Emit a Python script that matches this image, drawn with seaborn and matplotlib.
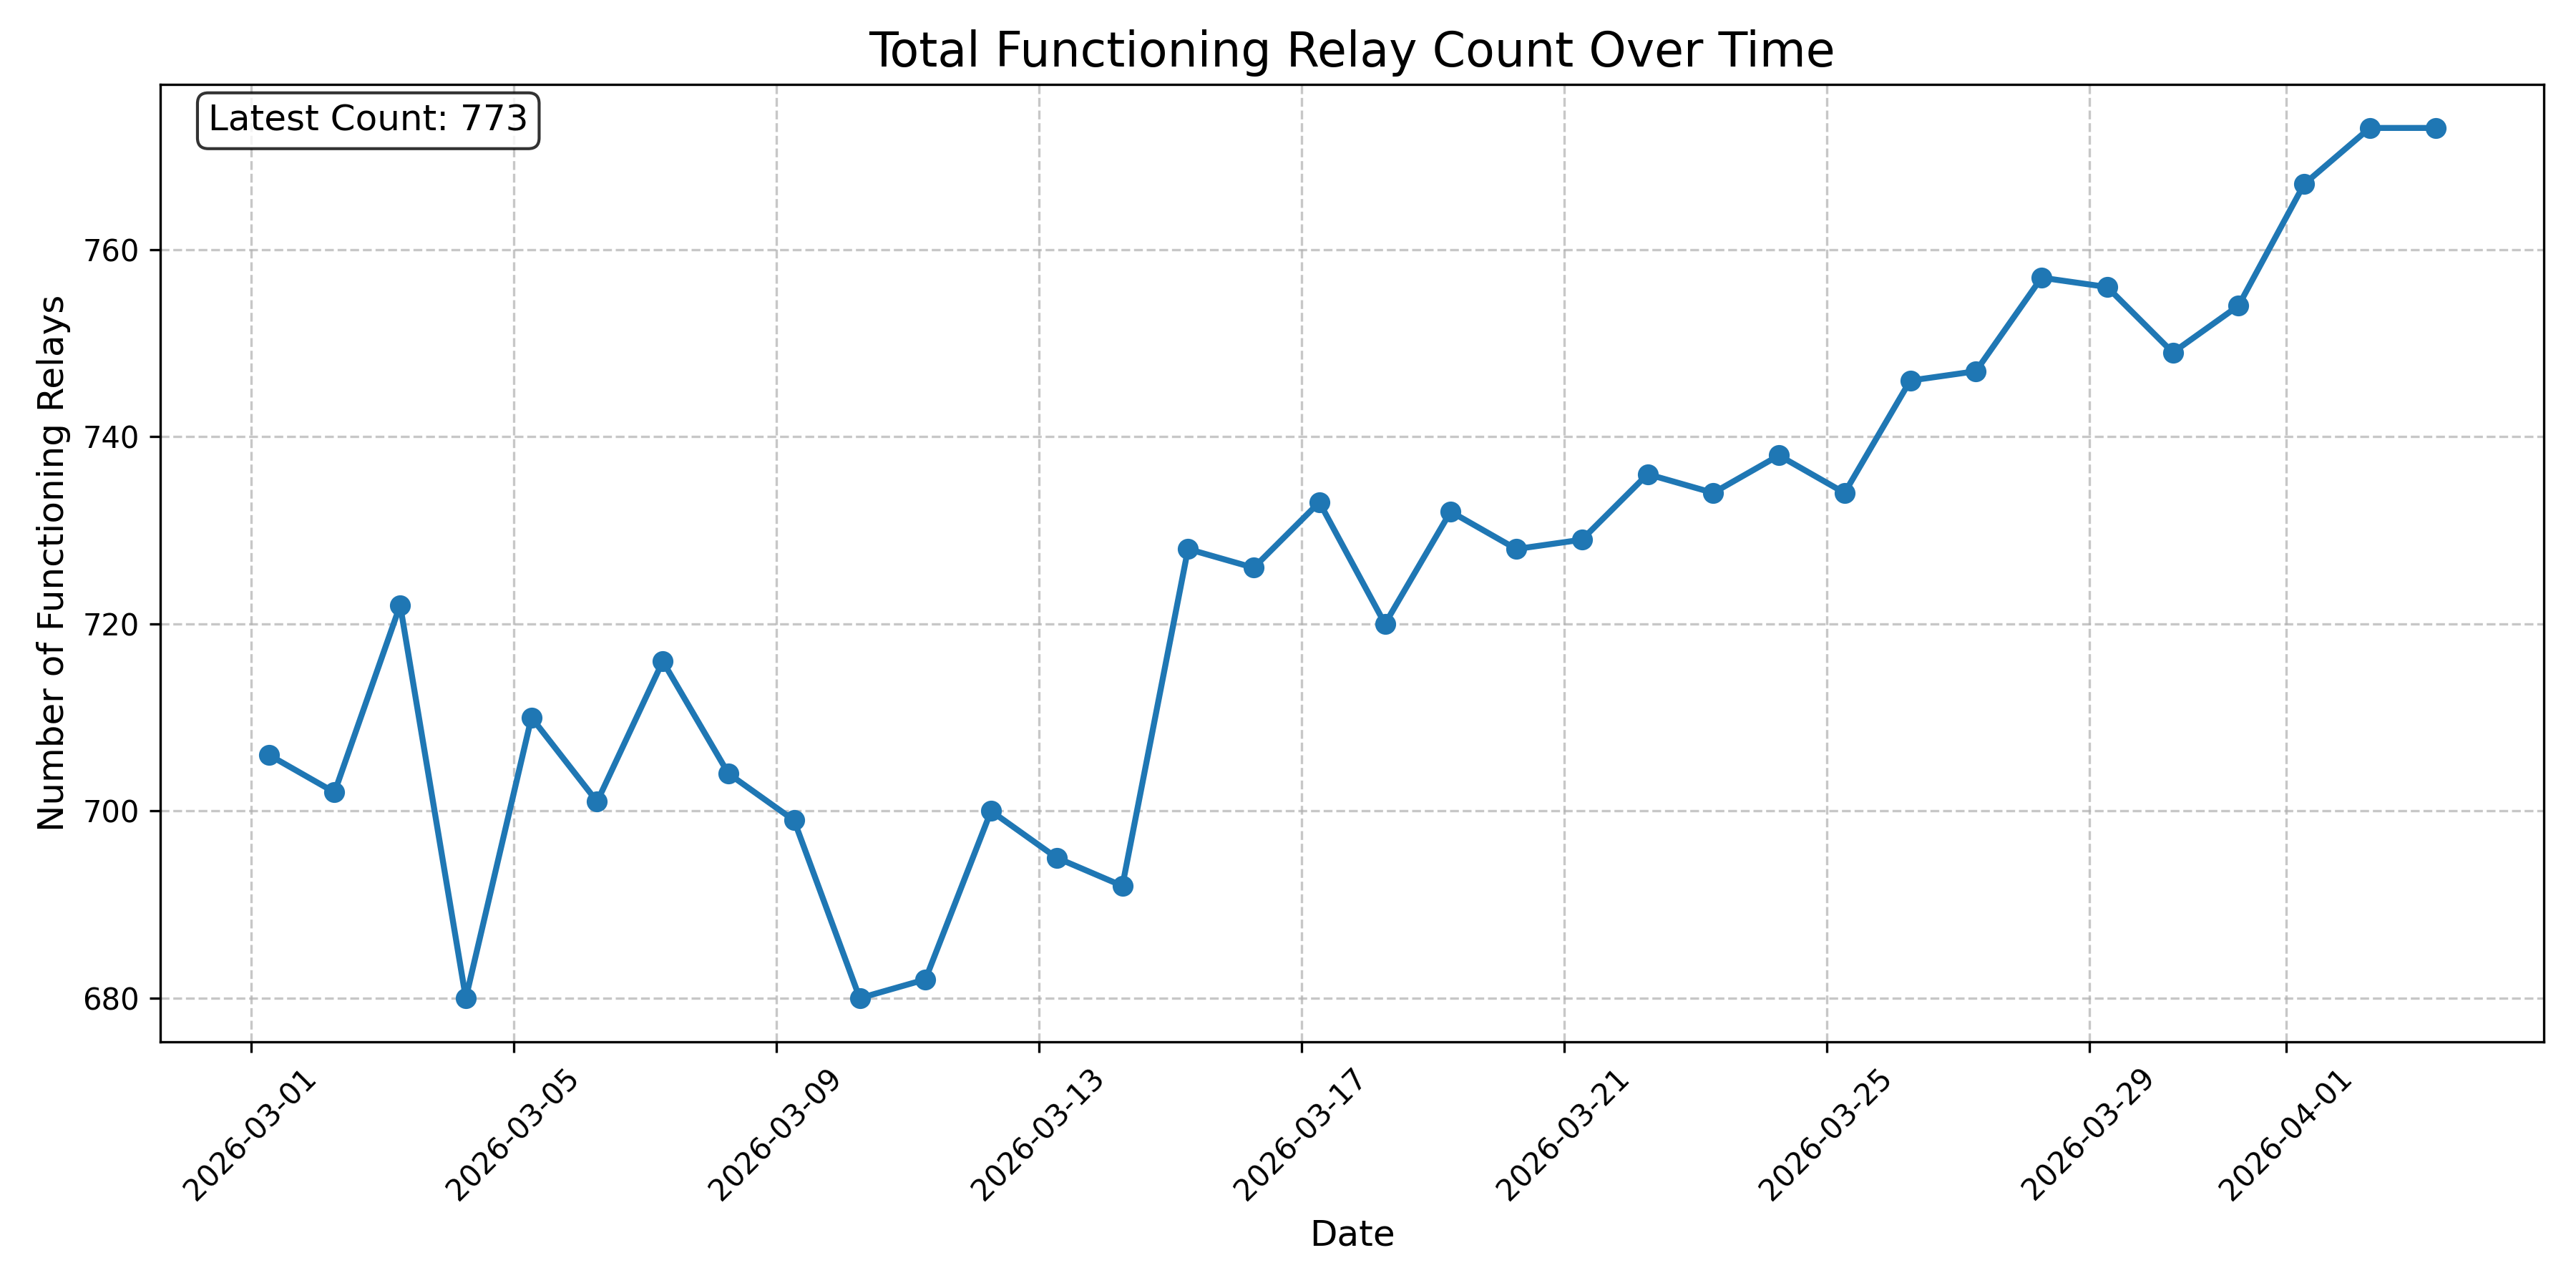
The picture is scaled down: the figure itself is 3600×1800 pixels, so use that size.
"""Total functioning relay count over time."""

import matplotlib

matplotlib.use("Agg")
import matplotlib.dates as mdates
import matplotlib.pyplot as plt
import pandas as pd
import seaborn as sns


START_TIME = "2026-03-01 06:30"
RELAY_COUNTS = [
    706, 702, 722, 680, 710, 701, 716, 704, 699, 680, 682, 700, 695, 692,
    728, 726, 733, 720, 732, 728, 729, 736, 734, 738, 734, 746, 747, 757,
    756, 749, 754, 767, 773, 773,
]


def main() -> None:
    df = pd.DataFrame(
        {
            "timestamp": pd.date_range(START_TIME, periods=len(RELAY_COUNTS), freq="D"),
            "count": RELAY_COUNTS,
        }
    )

    fig, ax = plt.subplots(figsize=(12, 6))
    sns.lineplot(
        data=df,
        x="timestamp",
        y="count",
        marker="o",
        markersize=6,
        markeredgewidth=1,
        markeredgecolor="#1f77b4",
        linewidth=2,
        color="#1f77b4",
        ax=ax,
    )
    ax.set_title("Total Functioning Relay Count Over Time", fontsize=16)
    ax.set_xlabel("Date", fontsize=12)
    ax.set_ylabel("Number of Functioning Relays", fontsize=12)
    ax.grid(True, linestyle="--", alpha=0.7)
    ax.xaxis.set_major_locator(mdates.DayLocator(bymonthday=[1, 5, 9, 13, 17, 21, 25, 29]))
    ax.xaxis.set_major_formatter(mdates.DateFormatter("%Y-%m-%d"))
    plt.setp(ax.get_xticklabels(), rotation=45)

    latest = df["count"].iloc[-1]
    ax.text(
        0.02,
        0.98,
        f"Latest Count: {latest}",
        transform=ax.transAxes,
        fontsize=12,
        va="top",
        bbox=dict(boxstyle="round", facecolor="white", alpha=0.8),
    )

    fig.tight_layout()
    fig.savefig("out.png", dpi=300)
    plt.close(fig)


if __name__ == "__main__":
    main()
